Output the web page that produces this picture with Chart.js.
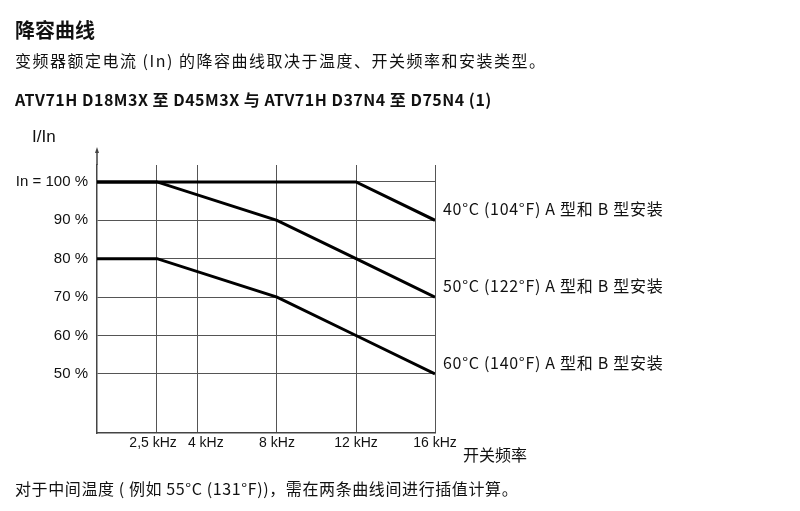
<!DOCTYPE html>
<html>
<head>
<meta charset="utf-8">
<script src="https://cdn.jsdelivr.net/npm/chart.js@4/dist/chart.umd.min.js"></script>
<style>
  body { margin: 0; background: #fff; }
  #wrap { position: relative; width: 800px; height: 511px; overflow: hidden; }
  #wrap canvas { position: absolute; left: 0; top: 0; }
  .txt { position: absolute; left: 15px; white-space: nowrap; color: #111;
         font-family: "Noto Sans CJK SC", "Noto Sans", sans-serif; }
  #title { top: 15px; font-size: 20px; font-weight: bold; }
  #sub { top: 48px; font-size: 16px; letter-spacing: 1.5px; }
  #model { top: 87px; font-size: 16px; font-weight: bold; letter-spacing: 0.5px; }
  #foot { top: 476px; font-size: 16px; letter-spacing: 0.6px; }
</style>
</head>
<body>
<div id="wrap">
  <canvas id="derating" width="800" height="511"></canvas>
  <div class="txt" id="title">降容曲线</div>
  <div class="txt" id="sub">变频器额定电流 (In) 的降容曲线取决于温度、开关频率和安装类型。</div>
  <div class="txt" id="model">ATV71H D18M3X 至 D45M3X 与 ATV71H D37N4 至 D75N4 (1)</div>
  <div class="txt" id="foot">对于中间温度 ( 例如 55°C (131°F))，需在两条曲线间进行插值计算。</div>
</div>
<script>
// Switching frequency (kHz) and I/In (%)
const freq40 = [0, 12, 16];
const curve40 = [100, 100, 90];
const freq50 = [0, 2.5, 8, 12, 16];
const curve50 = [100, 100, 90, 80, 70];
const freq60 = [0, 2.5, 8, 12, 16];
const curve60 = [80, 80, 70, 60, 50];

const seriesLabels = [
    '40°C (104°F) A 型和 B 型安装',
    '50°C (122°F) A 型和 B 型安装',
    '60°C (140°F) A 型和 B 型安装'
];

const xTicks = [2.5, 4, 8, 12, 16];
// the two close labels are nudged apart with spaces, as in the drawing
const xTickLabels = ['2,5 kHz  ', '    4 kHz', '8 kHz', '12 kHz', '16 kHz'];
const yTicks = [50, 60, 70, 80, 90, 100];
const yTickLabels = ['50 %', '60 %', '70 %', '80 %', '90 %', 'In = 100 %'];

// The frequency axis of the drawing is not linear: low frequencies are stretched
const axisStops = [0, 2.5, 4, 8, 12, 16];
const axisFractions = [0, 0.1775, 0.2988, 0.5325, 0.7663, 1];

class PiecewiseScale extends Chart.LinearScale {
    static id = 'piecewise';
    static defaults = Chart.LinearScale.defaults;

    getPixelForValue(value) {
        let f = 0;
        for (let i = 1; i < axisStops.length; i++) {
            if (value <= axisStops[i] || i === axisStops.length - 1) {
                const t = (value - axisStops[i - 1]) / (axisStops[i] - axisStops[i - 1]);
                f = axisFractions[i - 1] + t * (axisFractions[i] - axisFractions[i - 1]);
                break;
            }
        }
        return this.left + f * this.width;
    }

    getValueForPixel(pixel) {
        const f = (pixel - this.left) / this.width;
        for (let i = 1; i < axisFractions.length; i++) {
            if (f <= axisFractions[i] || i === axisFractions.length - 1) {
                const t = (f - axisFractions[i - 1]) / (axisFractions[i] - axisFractions[i - 1]);
                return axisStops[i - 1] + t * (axisStops[i] - axisStops[i - 1]);
            }
        }
    }
}
Chart.register(PiecewiseScale);

function toPoints(xs, ys) {
    return xs.map((x, i) => ({ x: x, y: ys[i] }));
}

const lineStyle = {
    borderColor: '#000',
    borderWidth: 3,
    pointRadius: 0,
    tension: 0,
    fill: false
};

// Axis decorations and curve labels
const extrasPlugin = {
    id: 'extras',
    afterDatasetsDraw(chart) {
        const ctx = chart.ctx;
        const area = chart.chartArea;
        const yScale = chart.scales.y;
        const xScale = chart.scales.x;
        ctx.save();

        // y axis extends above the grid with an arrow head
        ctx.strokeStyle = '#444';
        ctx.lineWidth = 1.5;
        ctx.beginPath();
        ctx.moveTo(area.left, area.top);
        ctx.lineTo(area.left, area.top - 14);
        ctx.stroke();
        ctx.fillStyle = '#444';
        ctx.beginPath();
        ctx.moveTo(area.left, area.top - 18);
        ctx.lineTo(area.left - 2, area.top - 12);
        ctx.lineTo(area.left + 2, area.top - 12);
        ctx.closePath();
        ctx.fill();

        ctx.fillStyle = '#111';
        ctx.font = '17px "Liberation Sans", Arial, sans-serif';
        ctx.textAlign = 'left';
        ctx.textBaseline = 'middle';
        ctx.fillText('I/In', 32, area.top - 28);

        ctx.font = '16px "Noto Sans CJK SC", sans-serif';
        ctx.fillText('开关频率', xScale.right + 28, xScale.top + 22);

        // curve labels next to the end of each line
        ctx.font = '16px "Noto Sans CJK SC", sans-serif';
        ctx.letterSpacing = '0.7px';
        chart.data.datasets.forEach((ds, i) => {
            const last = ds.data[ds.data.length - 1];
            const px = xScale.getPixelForValue(last.x);
            const py = yScale.getPixelForValue(last.y);
            ctx.fillText(seriesLabels[i], px + 8, py - 11);
        });
        ctx.restore();
    }
};

new Chart(document.getElementById('derating'), {
    type: 'line',
    data: {
        datasets: [
            Object.assign({ label: seriesLabels[0], data: toPoints(freq40, curve40) }, lineStyle),
            Object.assign({ label: seriesLabels[1], data: toPoints(freq50, curve50) }, lineStyle),
            Object.assign({ label: seriesLabels[2], data: toPoints(freq60, curve60) }, lineStyle)
        ]
    },
    options: {
        responsive: false,
        animation: false,
        events: [],
        layout: {
            padding: { left: 0, top: 165, right: 365, bottom: 0 }
        },
        scales: {
            x: {
                type: 'piecewise',
                min: 0,
                max: 16,
                afterBuildTicks: scale => {
                    scale.ticks = xTicks.map(v => ({ value: v }));
                },
                afterFit: scale => { scale.height = 78; },
                ticks: {
                    autoSkip: false,
                    maxRotation: 0,
                    padding: 2,
                    color: '#111',
                    font: { family: '"Liberation Sans", Arial, sans-serif', size: 14 },
                    callback: (value) => xTickLabels[xTicks.indexOf(value)]
                },
                grid: { color: '#555', lineWidth: 1, drawTicks: false },
                border: { color: '#444', width: 1.5 }
            },
            y: {
                min: 34.6,
                max: 104.4,
                afterBuildTicks: scale => {
                    scale.ticks = yTicks.map(v => ({ value: v }));
                },
                afterFit: scale => { scale.width = 97; },
                ticks: {
                    padding: 9,
                    color: '#111',
                    font: { family: '"Liberation Sans", Arial, sans-serif', size: 15 },
                    callback: (value) => yTickLabels[yTicks.indexOf(value)]
                },
                grid: { color: '#555', lineWidth: 1, drawTicks: false },
                border: { color: '#444', width: 1.5 }
            }
        },
        plugins: {
            legend: { display: false },
            title: { display: false },
            tooltip: { enabled: false }
        }
    },
    plugins: [extrasPlugin]
});
</script>
</body>
</html>
